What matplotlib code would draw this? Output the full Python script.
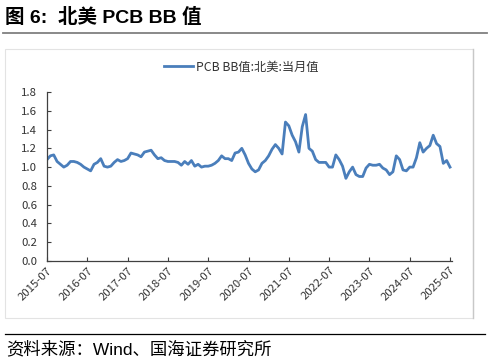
import numpy as np
import pandas as pd
import matplotlib
matplotlib.use('Agg')
import matplotlib.pyplot as plt
from matplotlib.lines import Line2D
from matplotlib.patches import Rectangle

plt.rcParams['font.family'] = ['Noto Sans CJK SC', 'DejaVu Sans']

# --- monthly series, 2015-07 .. 2025-07
start = '2015-07'
bb_values = [
    1.08, 1.12, 1.13, 1.06, 1.03, 1.00, 1.02, 1.06, 1.06, 1.05, 1.03, 1.00,
    0.98, 0.96, 1.03, 1.05, 1.09, 1.01, 1.00, 1.01, 1.05, 1.08, 1.06, 1.07,
    1.09, 1.15, 1.14, 1.13, 1.11, 1.16, 1.17, 1.18, 1.13, 1.09, 1.10, 1.07,
    1.06, 1.06, 1.06, 1.05, 1.02, 1.06, 1.03, 1.07, 1.01, 1.03, 1.00, 1.01,
    1.01, 1.02, 1.04, 1.07, 1.12, 1.09, 1.09, 1.07, 1.15, 1.16, 1.20, 1.13,
    1.04, 0.98, 0.95, 0.97, 1.04, 1.07, 1.12, 1.19, 1.24, 1.20, 1.14, 1.48,
    1.44, 1.34, 1.27, 1.16, 1.43, 1.56, 1.20, 1.17, 1.08, 1.05, 1.05, 1.05,
    1.00, 1.00, 1.13, 1.08, 1.01, 0.88, 0.95, 1.00, 0.92, 0.90, 0.90, 0.99,
    1.03, 1.02, 1.02, 1.03, 0.99, 0.97, 0.92, 0.95, 1.12, 1.08, 0.97, 0.96,
    1.00, 1.00, 1.10, 1.26, 1.16, 1.20, 1.23, 1.34, 1.25, 1.22, 1.04, 1.07,
    1.00,
]
y_ticks = [0.0, 0.2, 0.4, 0.6, 0.8, 1.0, 1.2, 1.4, 1.6, 1.8]
x_tick_labels = [f'{y}-07' for y in range(2015, 2026)]

title = '图 6:  北美 PCB BB 值'
legend_label = 'PCB BB值:北美:当月值'
source = '资料来源：Wind、国海证券研究所'

dates = pd.period_range(start, periods=len(bb_values), freq='M')
months = np.arange(len(dates))
tick_pos = [i for i, d in enumerate(dates) if d.month == 7]

line_color = '#4a7ebb'
text_color = '#333333'

fig = plt.figure(figsize=(4.9, 3.62), dpi=100)

# --- light frame around chart area
fig.patches.append(Rectangle((5 / 490, 1 - 318 / 362), 468 / 490, 269 / 362,
                             transform=fig.transFigure, fill=False,
                             edgecolor='#e3e3e3', lw=0.8))
fig.add_artist(Line2D([473 / 490, 473 / 490], [1 - 318 / 362, 1 - 49 / 362],
                      transform=fig.transFigure, color='#c8c8c8', lw=1.0))

# --- title and rules
fig.text(5 / 490, 1 - 17 / 362, title, fontsize=14, fontweight='bold',
         va='center', ha='left', color='black',
         family=['Liberation Sans', 'Noto Sans CJK SC'])
fig.add_artist(Line2D([3 / 490, 487 / 490], [1 - 32.5 / 362, 1 - 32.5 / 362],
                      transform=fig.transFigure, color='#808080', lw=1.3))
fig.add_artist(Line2D([5 / 490, 485 / 490], [1 - 334 / 362, 1 - 334 / 362],
                      transform=fig.transFigure, color='black', lw=0.9))
fig.text(6 / 490, 1 - 349 / 362, source, fontsize=12.5, va='center',
         ha='left', color='black',
         family=['Liberation Sans', 'Noto Sans CJK SC'])

ax = fig.add_axes((47 / 490, 1 - 261 / 362, 404.7 / 490, 169 / 362))
ax.plot(months, bb_values, color=line_color, lw=2.0, solid_joinstyle='round')

ax.set_xlim(0, 120.5)
ax.set_ylim(0, 1.8)
ax.set_yticks(y_ticks)
ax.set_yticklabels([f'{v:.1f}' for v in y_ticks])
ax.set_xticks(tick_pos)
ax.set_xticklabels(x_tick_labels, rotation=45, ha='right',
                   rotation_mode='anchor')

for s in ['top', 'right']:
    ax.spines[s].set_visible(False)
for s in ['left', 'bottom']:
    ax.spines[s].set_color('#404040')
    ax.spines[s].set_linewidth(0.9)

ax.tick_params(axis='both', direction='in', length=3, width=0.8,
               colors='#404040', labelsize=8.2, labelcolor=text_color)
ax.tick_params(axis='y', pad=7)
ax.tick_params(axis='x', pad=3)

# --- legend above plot
fig.legend([Line2D([], [], color=line_color, lw=2.0)], [legend_label],
           loc='center', bbox_to_anchor=(241 / 490, 1 - 67 / 362),
           frameon=False, fontsize=8.8, handlelength=2.4, handletextpad=0.2,
           labelcolor=text_color)

fig.savefig('out.png', dpi=100)
